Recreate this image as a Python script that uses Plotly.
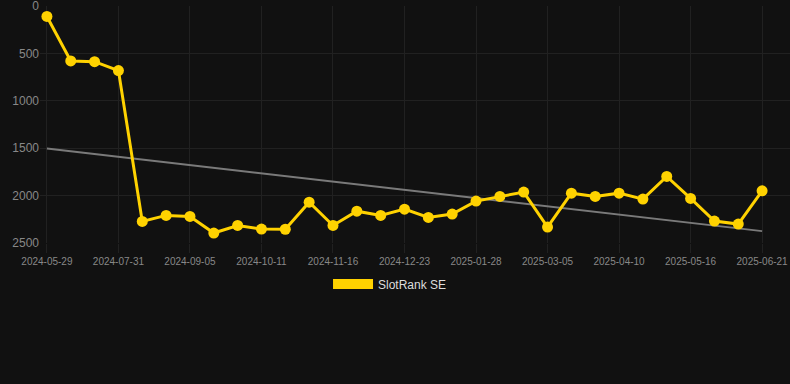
import numpy as np
import plotly.graph_objects as go

dates = [
    "2024-05-29", "2024-06-19", "2024-07-10", "2024-07-31", "2024-08-12", "2024-08-24",
    "2024-09-05", "2024-09-17", "2024-09-29", "2024-10-11", "2024-10-23", "2024-11-04",
    "2024-11-16", "2024-11-28", "2024-12-11", "2024-12-23", "2025-01-04", "2025-01-16",
    "2025-01-28", "2025-02-09", "2025-02-21", "2025-03-05", "2025-03-17", "2025-03-29",
    "2025-04-10", "2025-04-22", "2025-05-04", "2025-05-16", "2025-05-28", "2025-06-09",
    "2025-06-21",
]
ranks = [
    110, 580, 587, 681, 2272, 2209, 2220, 2395, 2315, 2353, 2355, 2069,
    2315, 2164, 2209, 2143, 2230, 2195, 2058, 2009, 1963, 2332, 1974, 2009,
    1974, 2037, 1798, 2030, 2269, 2300, 1949,
]
tick_labels = dates[::3]
y_ticks = [0, 500, 1000, 1500, 2000, 2500]
series_name = "SlotRank SE"

idx = np.arange(len(ranks))
slope, intercept = np.polyfit(idx, ranks, 1)
trend = slope * idx + intercept

gold = "#FFD200"
grid = "#212121"

fig = go.Figure()
fig.add_trace(go.Scatter(
    x=dates, y=trend, mode="lines",
    line=dict(color="#7a7a7a", width=2), showlegend=False, hoverinfo="skip",
))
fig.add_trace(go.Scatter(
    x=dates, y=ranks, mode="lines+markers", name=series_name,
    line=dict(color=gold, width=3), marker=dict(color=gold, size=11),
    showlegend=False,
))
fig.add_trace(go.Scatter(
    x=[None], y=[None], mode="lines", name=series_name,
    line=dict(color=gold, width=12), showlegend=True,
))

fig.update_layout(
    width=790, height=384,
    paper_bgcolor="#111111", plot_bgcolor="#111111",
    margin=dict(l=40, r=0, t=6, b=141),
    font=dict(family="Liberation Sans, Arial, sans-serif", color="#888888"),
    showlegend=True,
    legend=dict(
        orientation="h", x=0.4667, xanchor="center", y=-0.173, yanchor="middle",
        itemwidth=40, font=dict(size=12, color="#dddddd"), bgcolor="rgba(0,0,0,0)",
    ),
)
fig.update_xaxes(
    type="category", categoryorder="array", categoryarray=dates,
    range=[-0.29, 31.17],
    tickmode="array", tickvals=tick_labels, ticktext=tick_labels,
    showgrid=True, gridcolor=grid, gridwidth=1,
    ticks="outside", ticklen=9, tickcolor=grid,
    tickfont=dict(size=10, color="#888888"),
    showline=False, zeroline=False, ticklabeloverflow="allow",
)
fig.update_yaxes(
    range=[2500, 0], tickvals=y_ticks,
    showgrid=True, gridcolor=grid, gridwidth=1,
    tickfont=dict(size=12, color="#888888"),
    showline=False, zeroline=False, ticks="", ticklabeloverflow="allow",
)

fig.write_html(
    "out.html",
    config={"displayModeBar": False},
    post_script="document.body.style.margin='0';document.body.style.background='#111111';",
)
